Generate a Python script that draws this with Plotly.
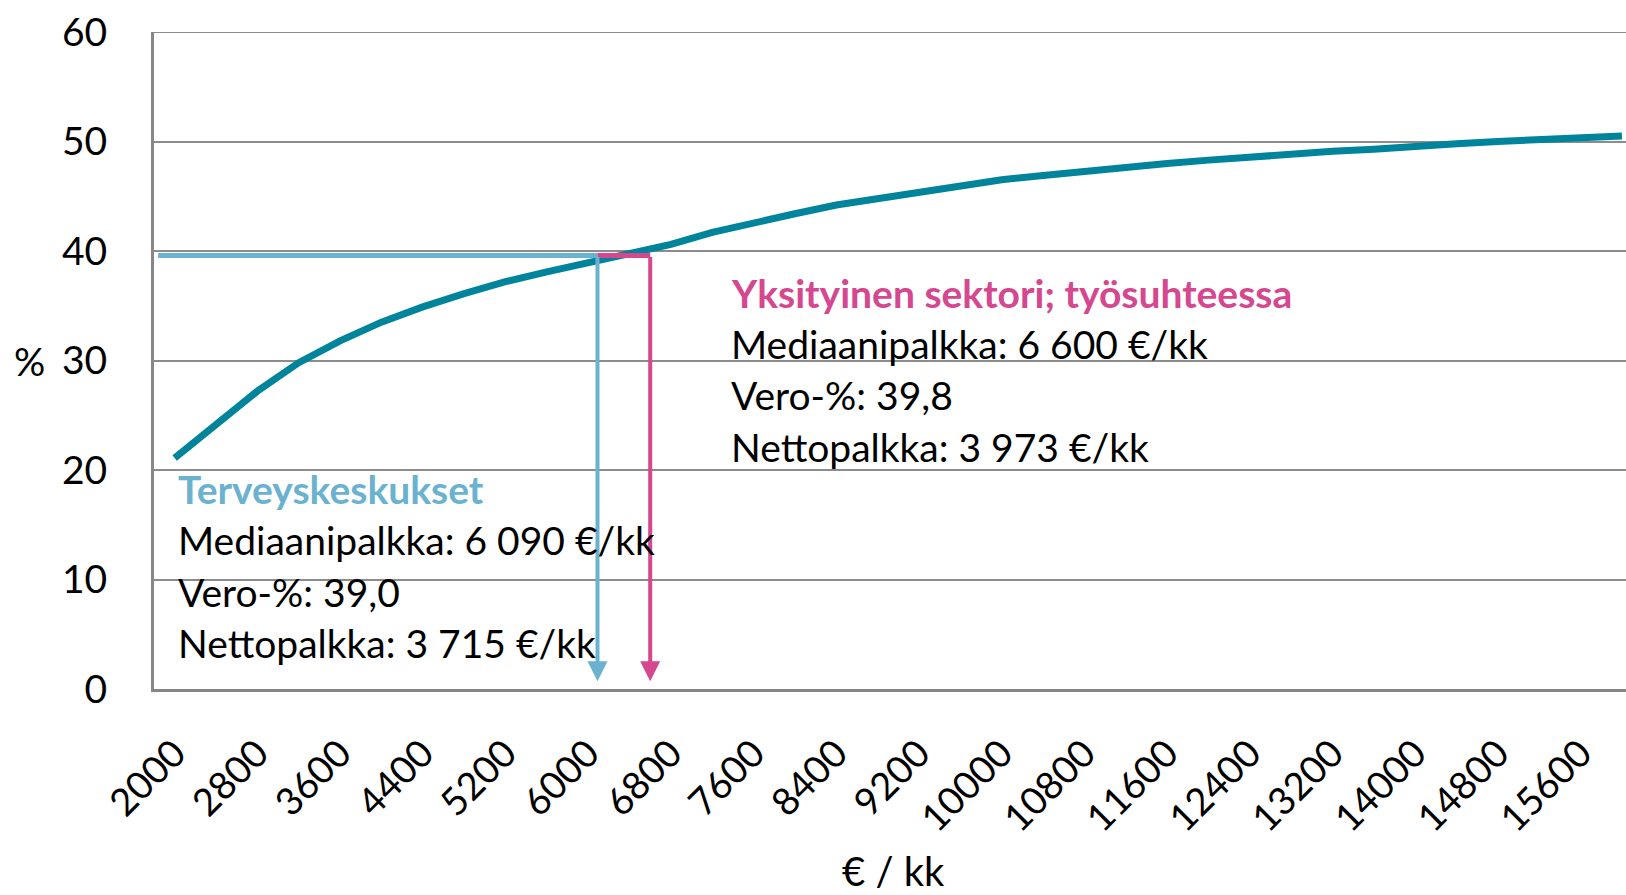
import plotly.graph_objects as go

# ---- data ----
salary = [2000, 2400, 2800, 3200, 3600, 4000, 4400, 4800, 5200, 5600,
          6000, 6400, 6800, 7200, 7600, 8000, 8400, 8800, 9200, 9600,
          10000, 10400, 10800, 11200, 11600, 12000, 12400, 12800, 13200, 13600,
          14000, 14400, 14800, 15200, 15600, 16000]
tax_pct = [21.1, 24.1, 27.2, 29.8, 31.8, 33.5, 34.9, 36.1, 37.2, 38.1,
           38.9, 39.7, 40.6, 41.7, 42.6, 43.4, 44.2, 44.8, 45.4, 46.0,
           46.5, 46.9, 47.3, 47.7, 48.0, 48.3, 48.6, 48.9, 49.1, 49.3,
           49.6, 49.8, 50.0, 50.2, 50.3, 50.5]
tick_vals = list(range(2000, 16000, 800))
tick_text = [str(v) for v in tick_vals]

groups = ["Terveyskeskukset", "Yksityinen sektori; työsuhteessa"]
median_salary = [6090, 6600]
median_text = ["6 090", "6 600"]
vero_text = ["39,0", "39,8"]
netto_text = ["3 715", "3 973"]
ref_level = 39.6      # height of the drawn guide lines in the picture
arrow_tip = 0.7

TEAL = "#00849C"
BLUE = "#6AB2CF"
PINK = "#D5478F"
GRID = "#8C8C8C"
FONT = "Lato"

W, H = 1626, 895
L, R, T, B = 154, 0, 32, 206

fig = go.Figure()
fig.add_trace(go.Scatter(x=salary, y=tax_pct, mode="lines",
                         line=dict(color=TEAL, width=7), hoverinfo="skip",
                         showlegend=False))

# top border gridline at 60
fig.add_shape(type="line", xref="paper", yref="y", x0=0, x1=1, y0=60, y1=60,
              line=dict(color=GRID, width=2), layer="below")

# guide lines
fig.add_shape(type="line", xref="x", yref="y", x0=1840, x1=median_salary[0],
              y0=ref_level, y1=ref_level, line=dict(color=BLUE, width=5), layer="above")
fig.add_shape(type="line", xref="x", yref="y", x0=median_salary[0], x1=median_salary[1],
              y0=ref_level, y1=ref_level, line=dict(color=PINK, width=5), layer="above")
for xs, col in zip(median_salary, [BLUE, PINK]):
    fig.add_annotation(x=xs, y=arrow_tip, ax=xs, ay=ref_level, xref="x", yref="y",
                       axref="x", ayref="y", showarrow=True, arrowhead=2,
                       arrowsize=1.0, arrowwidth=4, arrowcolor=col, text="")

plot_w = W - L - R
plot_h = H - T - B


def px(xpix):
    return (xpix - L) / plot_w


def py(ypix):
    return (H - B - ypix) / plot_h


def block(x_left, y_lines, idx, color):
    lines = [groups[idx],
             f"Mediaanipalkka: {median_text[idx]} €/kk",
             f"Vero-%: {vero_text[idx]}",
             f"Nettopalkka: {netto_text[idx]} €/kk"]
    for i, (txt, yy) in enumerate(zip(lines, y_lines)):
        fig.add_annotation(x=px(x_left), y=py(yy), xref="paper", yref="paper",
                           xanchor="left", yanchor="middle", showarrow=False,
                           text=f"<b>{txt}</b>" if i == 0 else txt,
                           font=dict(family=FONT, size=39,
                                     color=color if i == 0 else "black"))


block(729, [293, 344, 395, 447], 1, PINK)
block(176, [489, 540, 592, 643], 0, BLUE)

# axis titles
fig.add_annotation(x=0, y=30, xref="paper", yref="y", xanchor="right", yanchor="middle",
                   xshift=47 - L, showarrow=False, text="%",
                   font=dict(family=FONT, size=39, color="black"))
fig.add_annotation(x=px(893), y=py(871), xref="paper", yref="paper", xanchor="center",
                   yanchor="middle", showarrow=False, text="€ / kk",
                   font=dict(family=FONT, size=40, color="black"))

fig.update_layout(
    width=W, height=H, margin=dict(l=L, r=R, t=T, b=B, pad=0, autoexpand=False),
    paper_bgcolor="white", plot_bgcolor="white", showlegend=False,
    font=dict(family=FONT, size=38, color="black"),
)
fig.update_xaxes(range=[1800, 16039], tickmode="array", tickvals=tick_vals,
                 ticktext=tick_text, tickangle=-45, showgrid=False,
                 showline=True, linecolor="#878787", linewidth=3, zeroline=False,
                 ticks="", ticklabelstandoff=24, automargin=False,
                 tickfont=dict(family=FONT, size=38, color="black"))
fig.update_yaxes(range=[0, 60], dtick=10, showgrid=True, gridcolor=GRID, gridwidth=2,
                 showline=True, linecolor="#878787", linewidth=3, zeroline=False,
                 ticks="", ticklabelstandoff=36, automargin=False,
                 tickfont=dict(family=FONT, size=39, color="black"))

fig.write_html("out.html", config={"displayModeBar": False},
               post_script="document.body.style.margin='0';document.body.style.overflow='hidden';")
